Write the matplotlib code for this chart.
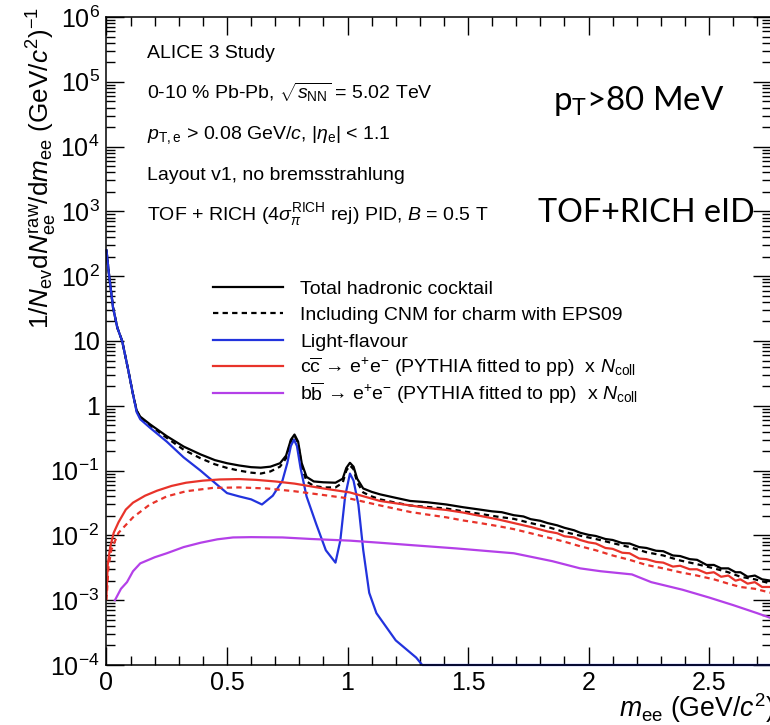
import numpy as np
import matplotlib
matplotlib.use("Agg")
import matplotlib.pyplot as plt
from matplotlib.ticker import FixedLocator, FuncFormatter, LogLocator, MultipleLocator, NullFormatter

plt.rcParams["font.family"] = ["Liberation Sans", "DejaVu Sans"]
plt.rcParams["mathtext.fontset"] = "custom"
plt.rcParams["mathtext.rm"] = "Liberation Sans"
plt.rcParams["mathtext.it"] = "Liberation Sans:italic"
plt.rcParams["mathtext.bf"] = "Liberation Sans:bold"
plt.rcParams["mathtext.sf"] = "Liberation Sans"

# ---------------- data: dN/dm_ee per event, 0-10% Pb-Pb ----------------
# total hadronic cocktail
m_total = [0.0, 0.01, 0.027, 0.045, 0.065, 0.09, 0.11, 0.125, 0.14, 0.18, 0.25, 0.32,
           0.39, 0.45, 0.50, 0.55, 0.60, 0.64, 0.68, 0.72, 0.745, 0.765, 0.78, 0.795,
           0.81, 0.83, 0.86, 0.90, 0.95, 0.98, 0.995, 1.01, 1.025, 1.04, 1.065, 1.10,
           1.135, 1.20, 1.26, 1.33, 1.41, 1.48, 1.55, 1.60, 1.64, 1.69, 1.73, 1.76,
           1.80, 1.83, 1.87, 1.90, 1.94, 1.965, 2.00, 2.03, 2.07, 2.10, 2.14, 2.17,
           2.21, 2.24, 2.28, 2.31, 2.35, 2.38, 2.42, 2.45, 2.49, 2.52, 2.55, 2.58,
           2.61, 2.63, 2.66, 2.69, 2.72, 2.757]
y_total = [250, 110, 33, 16, 10, 3.6, 1.5, 0.85, 0.68, 0.52, 0.34, 0.235,
           0.178, 0.145, 0.13, 0.12, 0.113, 0.111, 0.115, 0.13, 0.17, 0.30, 0.36, 0.28,
           0.13, 0.08, 0.068, 0.066, 0.065, 0.075, 0.11, 0.132, 0.115, 0.075, 0.053, 0.047,
           0.043, 0.038, 0.034, 0.0325, 0.030, 0.0272, 0.025, 0.0235, 0.0228, 0.0205, 0.0196, 0.0178,
           0.0168, 0.0155, 0.0143, 0.0131, 0.0120, 0.0110, 0.0102, 0.0098, 0.0088, 0.0085, 0.0076, 0.0075,
           0.0066, 0.0064, 0.0058, 0.0057, 0.0049, 0.0048, 0.0043, 0.0042, 0.0035, 0.0035, 0.0031, 0.0031,
           0.0027, 0.0027, 0.0023, 0.0024, 0.0021, 0.0020]

# total with cold-nuclear-matter effects for charm (EPS09)
m_total_cnm = [0.0, 0.01, 0.027, 0.045, 0.065, 0.09, 0.11, 0.125, 0.14, 0.18, 0.25, 0.32,
               0.39, 0.45, 0.50, 0.55, 0.60, 0.64, 0.68, 0.72, 0.745, 0.765, 0.78, 0.795,
               0.81, 0.83, 0.86, 0.90, 0.95, 0.98, 0.995, 1.01, 1.025, 1.04, 1.065, 1.10,
               1.135, 1.20, 1.26, 1.33, 1.41, 1.48, 1.55, 1.62, 1.69, 1.76, 1.83, 1.90,
               1.965, 2.03, 2.10, 2.17, 2.24, 2.31, 2.38, 2.45, 2.52, 2.58, 2.63, 2.69, 2.757]
y_total_cnm = [250, 110, 33, 16, 10, 3.6, 1.5, 0.84, 0.66, 0.50, 0.32, 0.21,
               0.155, 0.125, 0.11, 0.10, 0.093, 0.090, 0.097, 0.115, 0.155, 0.285, 0.345, 0.265,
               0.115, 0.068, 0.058, 0.055, 0.055, 0.065, 0.10, 0.12, 0.105, 0.066, 0.046, 0.040,
               0.036, 0.032, 0.029, 0.0275, 0.026, 0.0235, 0.0215, 0.0195, 0.018, 0.0155, 0.0135, 0.0113,
               0.0099, 0.0088, 0.0076, 0.0066, 0.0055, 0.0049, 0.0041, 0.0036, 0.0031, 0.0027, 0.0023, 0.0021, 0.0018]

# light-flavour hadron decays (drawn along the floor where it drops out of range)
m_lf = [0.0, 0.01, 0.027, 0.045, 0.065, 0.09, 0.11, 0.125, 0.14, 0.18, 0.25, 0.32,
        0.39, 0.46, 0.50, 0.55, 0.60, 0.645, 0.69, 0.73, 0.75, 0.765, 0.778, 0.79,
        0.805, 0.83, 0.87, 0.91, 0.95, 0.97, 0.99, 1.01, 1.025, 1.045, 1.065, 1.09,
        1.12, 1.20, 1.285, 1.31, 1.32, 2.757]
y_lf = [250, 110, 33, 16, 10, 3.6, 1.5, 0.80, 0.62, 0.46, 0.28, 0.16,
        0.10, 0.06, 0.045, 0.040, 0.036, 0.030, 0.041, 0.07, 0.13, 0.24, 0.30, 0.24,
        0.11, 0.04, 0.015, 0.0059, 0.0038, 0.0083, 0.04, 0.09, 0.07, 0.03, 0.006, 0.0013,
        0.00063, 0.00024, 0.00013, 0.0001, 0.0001, 0.0001]

# c cbar -> e+e- (PYTHIA scaled by N_coll)
m_cc = [0.0, 0.005, 0.015, 0.03, 0.05, 0.08, 0.11, 0.16, 0.21, 0.27, 0.33, 0.40,
        0.47, 0.55, 0.62, 0.70, 0.78, 0.90, 1.01, 1.135, 1.26, 1.33, 1.41, 1.48,
        1.55, 1.62, 1.69, 1.76, 1.83, 1.87, 1.90, 1.94, 1.965, 2.00, 2.03, 2.07,
        2.10, 2.14, 2.17, 2.21, 2.24, 2.28, 2.31, 2.35, 2.38, 2.42, 2.45, 2.49,
        2.52, 2.55, 2.58, 2.61, 2.63, 2.66, 2.69, 2.72, 2.757]
y_cc = [0.0012, 0.0035, 0.0065, 0.011, 0.016, 0.025, 0.032, 0.041, 0.049, 0.058, 0.065, 0.070,
        0.073, 0.074, 0.072, 0.068, 0.063, 0.053, 0.046, 0.034, 0.029, 0.0265, 0.0247, 0.0225,
        0.0200, 0.0178, 0.0155, 0.0135, 0.0115, 0.0108, 0.0097, 0.0093, 0.0085, 0.0078, 0.0075, 0.0064,
        0.0062, 0.0054, 0.0053, 0.0044, 0.0043, 0.0039, 0.0038, 0.0033, 0.0034, 0.0030, 0.0030, 0.0026,
        0.0027, 0.0023, 0.0024, 0.0020, 0.0021, 0.0018, 0.0019, 0.0016, 0.0016]

# c cbar with EPS09 nuclear modification
m_cc_cnm = [0.0, 0.008, 0.02, 0.05, 0.11, 0.18, 0.25, 0.33, 0.44, 0.55, 0.665, 0.78,
            0.90, 1.01, 1.135, 1.26, 1.33, 1.41, 1.48, 1.55, 1.62, 1.69, 1.76, 1.83,
            1.90, 1.965, 2.03, 2.10, 2.17, 2.24, 2.31, 2.38, 2.45, 2.52, 2.58, 2.63,
            2.69, 2.757]
y_cc_cnm = [0.0010, 0.0032, 0.006, 0.011, 0.019, 0.030, 0.040, 0.048, 0.054, 0.055, 0.053, 0.048,
            0.042, 0.037, 0.029, 0.023, 0.021, 0.019, 0.017, 0.0155, 0.0140, 0.0125, 0.0108, 0.0093,
            0.0080, 0.0068, 0.0059, 0.0049, 0.0042, 0.0035, 0.0031, 0.0027, 0.0024, 0.0021, 0.0018, 0.0016,
            0.0015, 0.0013]

# b bbar -> e+e- (PYTHIA scaled by N_coll)
m_bb = [0.035, 0.06, 0.085, 0.11, 0.14, 0.20, 0.25, 0.32, 0.39, 0.46, 0.525, 0.60,
        0.73, 0.85, 1.01, 1.135, 1.26, 1.45, 1.69, 1.85, 1.965, 2.05, 2.18, 2.26,
        2.39, 2.50, 2.60, 2.70, 2.757]
y_bb = [0.0010, 0.0015, 0.0019, 0.0028, 0.0037, 0.0046, 0.0053, 0.0066, 0.0077, 0.0087, 0.0093, 0.0094,
        0.0093, 0.0088, 0.0083, 0.0077, 0.0071, 0.0063, 0.0053, 0.0040, 0.0031, 0.0028, 0.0025, 0.0019,
        0.00145, 0.0011, 0.00084, 0.00063, 0.00053]

labels = [
    "Total hadronic cocktail",
    "Including CNM for charm with EPS09",
    "Light-flavour",
    r"c$\overline{\mathrm{c}}$ → e$^{+}$e$^{-}$ (PYTHIA fitted to pp)  x $N_{\mathrm{coll}}$",
    r"b$\overline{\mathrm{b}}$ → e$^{+}$e$^{-}$ (PYTHIA fitted to pp)  x $N_{\mathrm{coll}}$",
]

x_range = (0.0, 2.757)
y_range = (1e-4, 1e6)

# ---------------- figure ----------------
W, H = 770, 725
fig = plt.figure(figsize=(W / 100, H / 100), dpi=100)
ax = fig.add_axes([106.5 / W, 1 - 665 / H, (771 - 106.5) / W, (665 - 17) / H])

lw = 1.6
BLUE = "#2233dd"
RED = "#e8332a"
VIOLET = "#b440e8"
DASH = (0, (2.4, 1.9))

h_tot, = ax.plot(m_total, y_total, color="black", lw=lw)
h_cnm, = ax.plot(m_total_cnm, y_total_cnm, color="black", lw=lw, ls=DASH)
h_lf, = ax.plot(m_lf, y_lf, color=BLUE, lw=lw, clip_on=False)
h_cc, = ax.plot(m_cc, y_cc, color=RED, lw=lw)
ax.plot(m_cc_cnm, y_cc_cnm, color=RED, lw=lw, ls=DASH)
h_bb, = ax.plot(m_bb, y_bb, color=VIOLET, lw=lw)

ax.set_yscale("log")
ax.set_xlim(*x_range)
ax.set_ylim(*y_range)

# ticks on all four sides, pointing inwards
ax.xaxis.set_major_locator(MultipleLocator(0.5))
ax.xaxis.set_minor_locator(MultipleLocator(0.1))
ax.xaxis.set_major_formatter(FuncFormatter(lambda v, p: f"{v:g}"))

decades = list(range(-4, 7))
ax.yaxis.set_major_locator(FixedLocator([10.0 ** k for k in decades]))
ax.yaxis.set_minor_locator(LogLocator(base=10, subs=np.arange(2, 10), numticks=30))
ax.yaxis.set_minor_formatter(NullFormatter())


def dec_label(v, pos):
    k = int(round(np.log10(v)))
    if k == 0:
        return "1"
    if k == 1:
        return "10"
    return r"$10^{%d}$" % k


ax.yaxis.set_major_formatter(FuncFormatter(dec_label))
ax.tick_params(which="both", direction="in", top=True, right=True, width=1.0)
ax.tick_params(which="major", length=13, labelsize=18, pad=5)
ax.tick_params(axis="x", which="major", pad=4.5)
ax.tick_params(which="minor", length=6.5)
for s in ax.spines.values():
    s.set_linewidth(1.1)

# axis titles
fig.text(774 / W, 1 - 717 / H, r"$m_{\mathrm{ee}}$ (GeV/$c^{2}$)", ha="right", va="baseline", fontsize=19.2)
fig.text(42 / W, 1 - 7 / H,
         r"1/$N_{\mathrm{ev}}$d$N_{\mathrm{ee}}^{\mathrm{raw}}$/d$m_{\mathrm{ee}}$ (GeV/$c^{2}$)$^{\mathrm{-1}}$",
         rotation=90, ha="center", va="top", fontsize=18.8)

# description block
info = [
    "ALICE 3 Study",
    r"0-10 % Pb-Pb, $\sqrt{s_{\mathrm{NN}}}$ = 5.02 TeV",
    r"$p_{\mathrm{T,e}}$ > 0.08 GeV/$c$, |$\eta_{\mathrm{e}}$| < 1.1",
    "Layout v1, no bremsstrahlung",
    r"TOF + RICH (4$\sigma_{\pi}^{\mathrm{RICH}}$ rej) PID, $B$ = 0.5 T",
]
baselines = [57.5, 98.5, 139.5, 180, 220]
for t, yb in zip(info, baselines):
    fig.text(147 / W, 1 - yb / H, t, ha="left", va="baseline", fontsize=14)

fig.text(553 / W, 1 - 110 / H, r"p$_{\mathregular{T}}$>80 MeV", ha="left", va="baseline",
         fontsize=23.8, family="Lato")
fig.text(538 / W, 1 - 222 / H, "TOF+RICH eID", ha="left", va="baseline", fontsize=23.2, family="Lato")

# legend: plain-text rows keep an even row pitch; the rows with math are
# written at the anchor the legend reserves for them
math_rows = [3, 4]
leg_labels = [(" " if i in math_rows else t) for i, t in enumerate(labels)]
leg = ax.legend([h_tot, h_cnm, h_lf, h_cc, h_bb], leg_labels, loc="upper left",
                bbox_to_anchor=(213 / W, 1 - 280 / H), bbox_transform=fig.transFigure,
                frameon=False, fontsize=14, borderpad=0, borderaxespad=0,
                handlelength=3.6, handletextpad=0.88, labelspacing=0.46)
fig.canvas.draw()
for i in math_rows:
    lt = leg.get_texts()[i]
    px, py = lt.get_transform().transform(lt.get_position())
    fx, fy = fig.transFigure.inverted().transform((px, py))
    fig.text(fx, fy, labels[i], ha="left", va="baseline", fontsize=14)

fig.savefig("out.png", dpi=100)
